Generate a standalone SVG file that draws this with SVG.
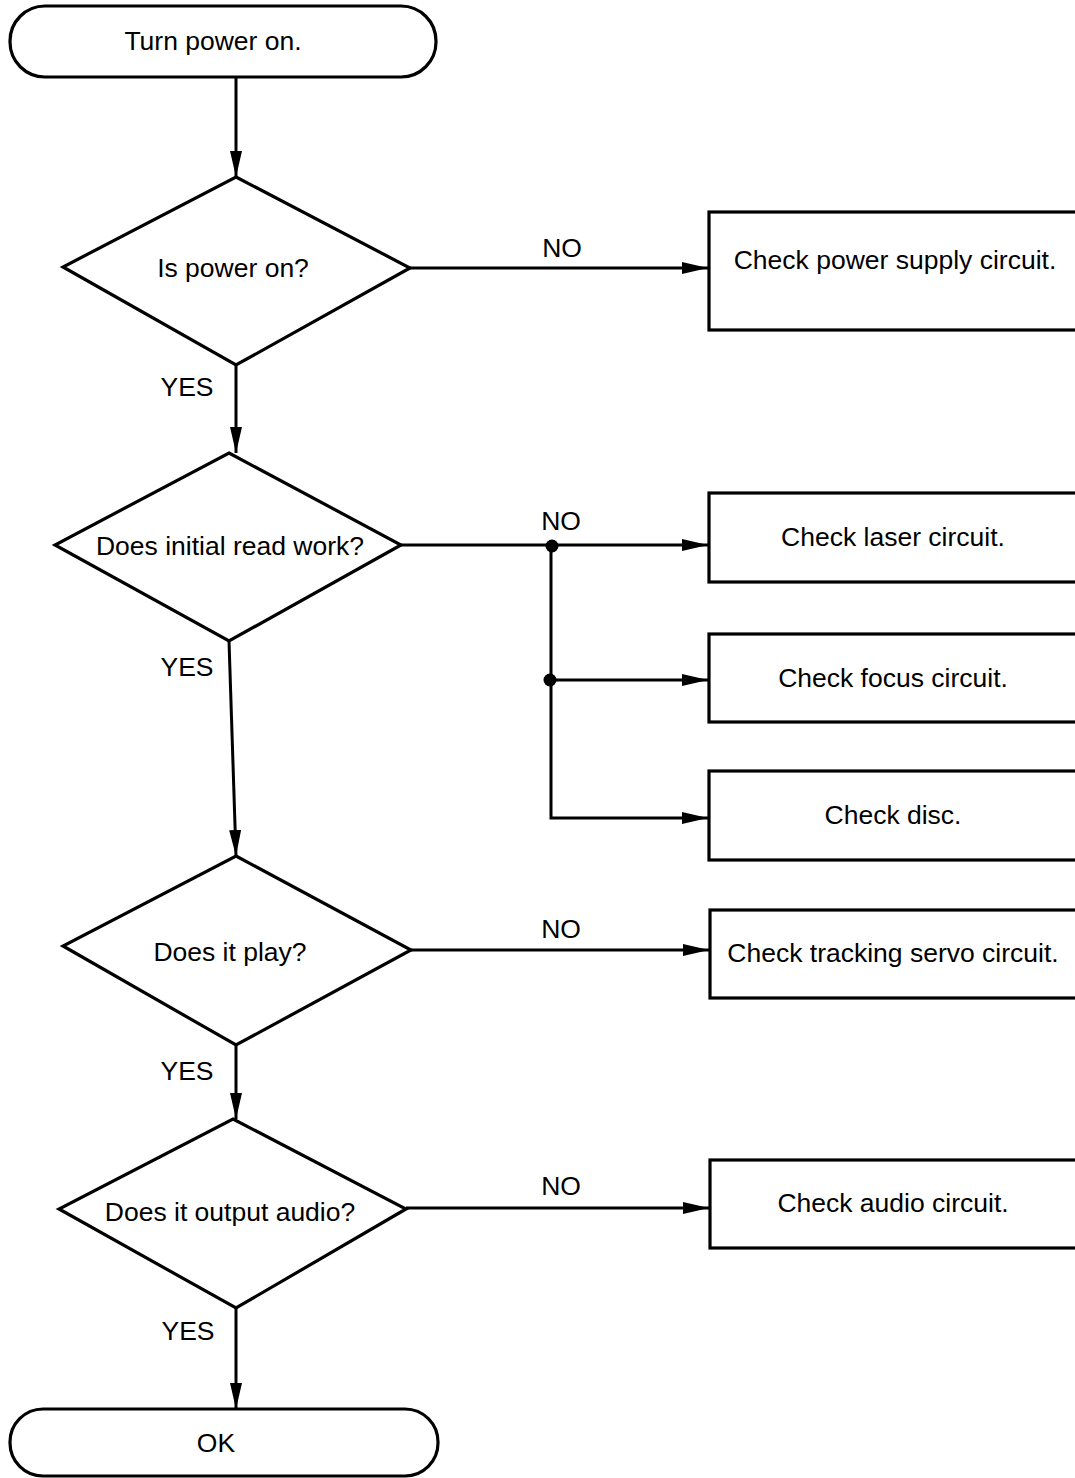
<svg xmlns="http://www.w3.org/2000/svg" width="1075" height="1478" viewBox="0 0 1075 1478">
<style>
.shape{fill:#fff;stroke:#000;stroke-width:3.2}
.conn{fill:none;stroke:#000;stroke-width:3}
text{font-family:"Liberation Sans",Arial,sans-serif;font-size:26.5px;fill:#000;text-anchor:middle}
</style>
<defs>
<marker id="arr" markerUnits="userSpaceOnUse" markerWidth="28" markerHeight="14" refX="26" refY="6" orient="auto">
<path d="M0,0 L26,6 L0,12 z" fill="#000"/>
</marker>
</defs>
<rect width="1075" height="1478" fill="#fff"/>
<g id="connectors">
<line class="conn" x1="236" y1="77" x2="236" y2="177" marker-end="url(#arr)"/>
<line class="conn" x1="410" y1="268" x2="708" y2="268" marker-end="url(#arr)"/>
<line class="conn" x1="236" y1="365" x2="236" y2="453" marker-end="url(#arr)"/>
<line class="conn" x1="401" y1="545" x2="708" y2="545" marker-end="url(#arr)"/>
<polyline class="conn" points="551,545 551,818 708,818" marker-end="url(#arr)"/>
<line class="conn" x1="551" y1="680" x2="708" y2="680" marker-end="url(#arr)"/>
<circle cx="552" cy="546" r="6.5" fill="#000"/>
<circle cx="550" cy="680" r="6.5" fill="#000"/>
<line class="conn" x1="229" y1="641" x2="236" y2="856" marker-end="url(#arr)"/>
<line class="conn" x1="411" y1="950" x2="709" y2="950" marker-end="url(#arr)"/>
<line class="conn" x1="236" y1="1045" x2="236" y2="1119" marker-end="url(#arr)"/>
<line class="conn" x1="406" y1="1208" x2="709" y2="1208" marker-end="url(#arr)"/>
<line class="conn" x1="236" y1="1308" x2="236" y2="1409" marker-end="url(#arr)"/>
<text x="562" y="257">NO</text>
<text x="187" y="396">YES</text>
<text x="561" y="530">NO</text>
<text x="187" y="676">YES</text>
<text x="561" y="938">NO</text>
<text x="187" y="1080">YES</text>
<text x="561" y="1195">NO</text>
<text x="188" y="1340">YES</text>
</g>
<g id="start">
<rect class="shape" x="10" y="6" width="426" height="71" rx="35" ry="35"/>
<text x="213" y="50">Turn power on.</text>
</g>
<g id="d1">
<polygon class="shape" points="236,177 410,268 236,365 63,267"/>
<text x="233" y="277">Is power on?</text>
</g>
<g id="b1">
<rect class="shape" x="709" y="212" width="372" height="118"/>
<text x="895" y="269">Check power supply circuit.</text>
</g>
<g id="d2">
<polygon class="shape" points="229,453 401,545 229,641 55,545"/>
<text x="230" y="555">Does initial read work?</text>
</g>
<g id="b2">
<rect class="shape" x="709" y="493" width="372" height="89"/>
<text x="893" y="546">Check laser circuit.</text>
</g>
<g id="b3">
<rect class="shape" x="709" y="634" width="372" height="88"/>
<text x="893" y="687">Check focus circuit.</text>
</g>
<g id="b4">
<rect class="shape" x="709" y="771" width="372" height="89"/>
<text x="893" y="824">Check disc.</text>
</g>
<g id="d3">
<polygon class="shape" points="236,856 411,950 236,1045 63,946"/>
<text x="230" y="961">Does it play?</text>
</g>
<g id="b5">
<rect class="shape" x="710" y="910" width="372" height="88"/>
<text x="893" y="962">Check tracking servo circuit.</text>
</g>
<g id="d4">
<polygon class="shape" points="233,1119 406,1209 236,1308 59,1209"/>
<text x="230" y="1221">Does it output audio?</text>
</g>
<g id="b6">
<rect class="shape" x="710" y="1160" width="372" height="88"/>
<text x="893" y="1212">Check audio circuit.</text>
</g>
<g id="end">
<rect class="shape" x="10" y="1409" width="428" height="67" rx="33" ry="33"/>
<text x="216" y="1452">OK</text>
</g>
</svg>
